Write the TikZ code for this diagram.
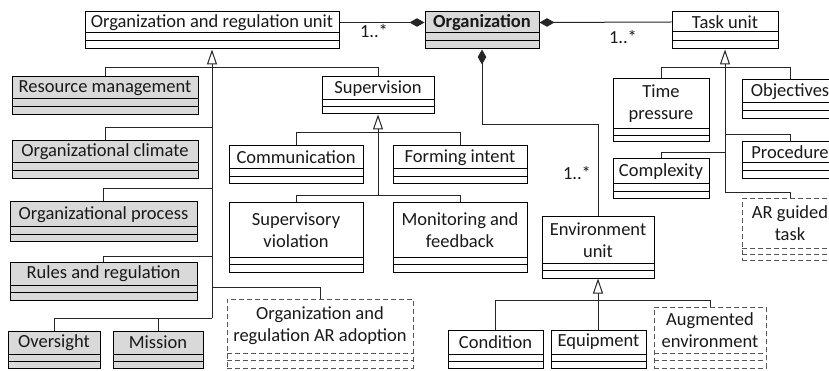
\documentclass[tikz,border=0pt]{standalone}
\usepackage{fontspec}
\setmainfont{Carlito}
\usetikzlibrary{arrows.meta,fit}
\definecolor{boxgray}{HTML}{D9D9D9}
\definecolor{dashgray}{HTML}{555555}

\tikzset{
  classbox/.style={draw=black, line width=1pt, inner sep=0pt, fill=white},
  classline/.style={draw=black, line width=1pt},
  graybox/.style={fill=boxgray},
  arbox/.style={draw=dashgray, dash pattern=on 5pt off 3pt},
  nametext/.style={inner sep=0pt, align=center, text=black!90, font=\fontsize{18.5}{22}\selectfont},
  conn/.style={draw=black!85, line width=1pt},
  inherit/.style={conn, -{Triangle[open, length=15pt, width=10pt, fill=white]}},
  comp/.style={conn, {Diamond[length=15pt, width=8.5pt]}-},
  mult/.style={inner sep=0pt, text=black!90, font=\fontsize{18.5}{22}\selectfont},
}

% UML class: [style]{name}{x1}{y1}{x2}{y2}{y of first divider}{class name}
\newcommand\umlclass[8][]{%
  \node[classbox,#1,fit={(#3,#4) (#5,#6)}] (#2) {};
  \pgfmathsetmacro\umlmid{(#7+#6)/2}
  \draw[classline,#1] (#3,#7) -- (#5,#7) (#3,\umlmid) -- (#5,\umlmid);
  \node[nametext] (#2-t) at ({(#3+#5)/2},{(#4+#7)/2}) {#8};
}

\begin{document}
\begin{tikzpicture}[x=1pt,y=-1pt]
\useasboundingbox (0,0) rectangle (829,371);
\clip (0,0) rectangle (829,371);

% classes
\umlclass{oru}{85}{12}{339}{49}{33}{Organization and regulation unit}
\umlclass[graybox]{org}{425}{12}{539}{49}{33}{\textbf{Organization}}
\umlclass{tu}{672}{12}{778}{49}{32}{Task unit}
\umlclass[graybox]{rm}{12}{77}{198}{115}{99}{Resource management}
\umlclass{sup}{322}{77}{434}{114}{100}{Supervision}
\umlclass{tp}{613}{79}{709}{142}{129}{Time\\pressure}
\umlclass{obj}{742}{80}{838}{119}{103}{Objectives}
\umlclass[graybox]{oc}{12}{141}{198}{179}{163}{Organizational climate}
\umlclass{comm}{229}{146}{363}{184}{169}{Communication}
\umlclass{fi}{393}{146}{527}{184}{169}{Forming intent}
\umlclass{proc}{742}{142}{838}{179}{163}{Procedure}
\umlclass{cx}{613}{159}{709}{199}{184}{Complexity}
\umlclass[graybox]{op}{10}{202}{197}{242}{227}{Organizational process}
\umlclass[arbox]{arg}{742}{199}{838}{260}{248}{AR guided\\task}
\umlclass{sv}{229}{203}{363}{272}{257}{Supervisory\\violation}
\umlclass{mf}{393}{203}{527}{272}{257}{Monitoring and\\feedback}
\umlclass{env}{542}{217}{654}{278}{263}{Environment\\unit}
\umlclass[graybox]{rr}{10}{262}{197}{300}{285}{Rules and regulation}
\umlclass[arbox]{ara}{227}{299}{413}{368}{353}{Organization and\\regulation AR adoption}
\umlclass[arbox]{aug}{654}{307}{766}{368}{353}{Augmented\\environment}
\umlclass{cond}{448}{330}{543}{368}{354}{Condition}
\umlclass{eq}{551}{330}{646}{368}{354}{Equipment}
\umlclass[graybox]{ov}{8}{331}{100}{368}{354}{Oversight}
\umlclass[graybox]{mi}{113}{331}{203}{368}{354}{Mission}

% generalisation junctions
\coordinate (g1a) at (212,68);
\coordinate (g1b) at (212,128);
\coordinate (g1c) at (212,189);
\coordinate (g1d) at (212,256);
\coordinate (g1e) at (212,287);
\coordinate (g1f) at (212,318);
\coordinate (g2a) at (378,133);
\coordinate (g2b) at (378,196);
\coordinate (g3a) at (725,68);
\coordinate (g3b) at (725,135);
\coordinate (g3c) at (725,153);
\coordinate (g3d) at (725,193);
\coordinate (g4a) at (598,300);
\coordinate (c1) at (598,125);

% organization and regulation unit hierarchy
\draw[conn] (rm.north) |- (g1a);
\draw[conn] (sup.north) |- (g1a);
\draw[conn] (oc.north) |- (g1b);
\draw[conn] (op.north) |- (g1c);
\draw[conn] (rr.north) |- (g1d);
\draw[conn] (ara.north) |- (g1e);
\draw[conn] (ov.north) |- (g1f);
\draw[conn] (mi.north) |- (g1f);
\draw[inherit] (g1f) -- (oru.south);

% supervision hierarchy
\draw[conn] (comm.north) |- (g2a);
\draw[conn] (fi.north) |- (g2a);
\draw[conn] (sv.north) |- (g2b);
\draw[conn] (mf.north) |- (g2b);
\draw[inherit] (g2b) -- (sup.south);

% task unit hierarchy
\draw[conn] (tp.north) |- (g3a);
\draw[conn] (obj.north) |- (g3a);
\draw[conn] (proc.north) |- (g3b);
\draw[conn] (cx.north) |- (g3c);
\draw[conn] (arg.north) |- (g3d);
\draw[inherit] (g3d) -- (tu.south);

% environment unit hierarchy
\draw[conn] (cond.north) |- (g4a);
\draw[conn] (eq.north) |- (g4a);
\draw[conn] (aug.north) |- (g4a);
\draw[inherit] (g4a) -- (env.south);

% compositions of the organization
\draw[comp] (org.west |- org-t) -- (oru.east |- oru-t);
\draw[comp] (org.east |- org-t) -- (tu.west |- tu-t);
\draw[comp] (org.south) |- (c1) -- (env.north);

% multiplicities
\node[mult] (m1) at (374,31) {1..*};
\node[mult] (m2) at (623,37) {1..*};
\node[mult] (m3) at (577,173) {1..*};
\end{tikzpicture}
\end{document}
